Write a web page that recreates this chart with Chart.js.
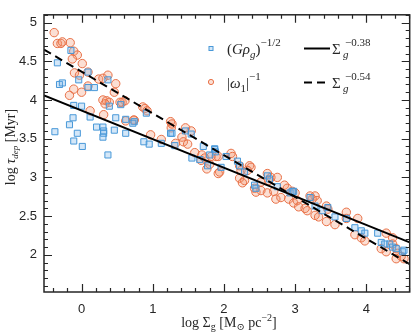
<!DOCTYPE html>
<html>
<head>
<meta charset="utf-8">
<script src="https://cdn.jsdelivr.net/npm/chart.js@4/dist/chart.umd.min.js"></script>
<style>
  html, body { margin: 0; padding: 0; background: #fff; }
  #wrap { width: 415px; height: 332px; }
</style>
</head>
<body>
<div id="wrap"><canvas id="chart" width="415" height="332"></canvas></div>
<script>
/* ─── data ──────────────────────────────────────────────────── */
const X_TICKS = [0, 1, 2, 3, 4];
const Y_TICKS = [2, 2.5, 3, 3.5, 4, 4.5, 5];

// |omega_1|^-1  (orange circles)
const omegaX = [-0.385, -0.34, -0.29, -0.27, -0.16, -0.11, -0.06, -0.13, 0.01, -0.10, -0.03, 0.09, 0.24, 0.30, 0.37,
  0.48, -0.11, -0.17, 0.00, 0.09, 0.30, 0.35, 0.39, 0.33, 0.46, 0.57, 0.12, 0.31, 0.62, 0.74, 1.25, 1.26, 1.32, 1.12,
  0.97, 0.73, 0.86, 0.89, 0.92, 0.61, 0.54, 1.27, 1.46, 1.54, 1.41, 1.43, 1.49, 1.59, 1.68, 1.69, 1.73, 1.76,
  1.80, 1.82, 1.89, 1.92, 2.10, 2.12, 1.94, 1.92, 2.22, 2.24, 2.36, 2.38, 2.33, 2.22, 2.29, 2.26, 2.61, 2.66, 2.75,
  2.63, 2.52, 2.43, 2.45, 2.52, 2.61, 2.70, 2.73, 2.80, 2.91, 2.98, 2.85, 2.89, 2.96, 3.00, 3.03, 3.05, 3.14, 3.17,
  3.21, 3.28, 3.24, 3.31, 3.28, 3.33, 3.44, 3.46, 3.44, 3.56, 3.72, 3.72, 3.88, 3.84, 3.93, 3.98, 4.28, 4.37, 4.21,
  4.28, 4.42, 4.44, 4.49, 4.42, 4.53, 4.37];
const omegaY = [4.87, 4.73, 4.73, 4.75, 4.74, 4.63, 4.58, 4.53, 4.47, 4.35, 4.32, 4.36, 4.27, 4.28, 4.32,
  4.21, 4.14, 4.06, 4.10, 4.18, 4.00, 3.99, 3.97, 3.95, 4.10, 3.97, 3.86, 3.81, 3.73, 3.74, 3.72, 3.64, 3.44, 3.49,
  3.55, 3.74, 3.91, 3.89, 3.86, 3.99, 3.97, 3.69, 3.64, 3.60, 3.52, 3.46, 3.43, 3.32, 3.22, 3.29, 3.25, 3.11,
  3.17, 3.27, 3.27, 3.27, 3.31, 3.27, 3.07, 3.05, 3.15, 3.09, 3.15, 3.13, 3.09, 2.99, 2.96, 2.93, 3.05, 3.00, 3.00,
  2.96, 2.94, 2.86, 2.81, 2.83, 2.80, 2.82, 2.72, 2.74, 2.72, 2.67, 2.90, 2.86, 2.82, 2.80, 2.70, 2.62, 2.60, 2.57,
  2.76, 2.76, 2.72, 2.70, 2.51, 2.49, 2.63, 2.59, 2.43, 2.39, 2.55, 2.47, 2.47, 2.26, 2.22, 2.18, 2.28, 2.22, 2.08,
  2.04, 2.08, 2.02, 1.98, 1.95, 1.95, 2.14];

// (G rho_g)^-1/2  (blue squares)
const rhoX = [-0.15, -0.34, -0.31, -0.27, 0.09, -0.04, 0.09, 0.18, 0.37, 0.00, -0.11, -0.375, -0.12, -0.17, -0.06,
  -0.11, 0.01, 0.12, 0.21, 0.30, 0.31, 0.31, 0.30, 0.37, 0.46, 0.48, 0.39, 0.55, 0.62, 0.62, 0.74, 1.25, 1.31, 1.12,
  0.875, 0.95, 0.91, 0.72, 1.27, 1.46, 1.54, 1.71, 1.80, 1.87, 1.55, 1.66, 1.77, 1.87, 1.88, 2.03, 2.19, 2.22, 1.96,
  2.29, 2.61, 2.64, 2.43, 2.45, 2.75, 2.93, 2.98, 2.96, 3.21, 3.28, 3.38, 3.46, 3.56, 3.72, 3.84, 3.93, 3.98, 4.16,
  4.21, 4.26, 4.33, 4.37, 4.42, 4.51, 4.53];
const rhoY = [4.64, 4.48, 4.20, 4.22, 4.36, 4.26, 4.16, 4.16, 4.26, 3.92, 3.93, 3.59, 3.77, 3.68, 3.57,
  3.47, 3.40, 3.78, 3.65, 3.65, 3.60, 3.57, 3.52, 3.29, 3.61, 3.77, 3.92, 3.94, 3.57, 3.75, 3.72, 3.57, 3.41, 3.44,
  3.46, 3.43, 3.83, 3.70, 3.57, 3.60, 3.56, 3.40, 3.29, 3.36, 3.25, 3.23, 3.15, 3.37, 3.33, 3.27, 3.21, 3.15, 3.13,
  3.07, 3.02, 2.98, 2.90, 2.86, 2.88, 2.80, 2.82, 2.82, 2.74, 2.63, 2.57, 2.61, 2.49, 2.47, 2.35, 2.31, 2.28, 2.28,
  2.16, 2.14, 2.14, 2.10, 2.08, 2.04, 2.06];

// fit lines, end points at the plot edges
const fitX      = [-0.528, 4.61];
const fitSolidY = [4.06, 2.16];   // Sigma_g^-0.38
const fitDashY  = [4.65, 1.88];   // Sigma_g^-0.54

const X_MIN = -0.528, X_MAX = 4.61, Y_MIN = 1.52, Y_MAX = 5.10;

const ORANGE      = 'rgb(232,112,70)';
const ORANGE_FILL = 'rgba(240,140,100,0.28)';
const BLUE        = 'rgb(72,152,216)';
const BLUE_FILL   = 'rgba(120,180,232,0.32)';
const INK         = '#262626';

const SERIF = '"Liberation Serif", "DejaVu Serif", serif';
const SANS  = '"Liberation Sans", Arial, sans-serif';

const pts = (xs, ys) => xs.map((x, i) => ({ x, y: ys[i] }));

/* ─── helpers for rich (sub/superscript) text ──────────────── */
// parts: [text, font, dy]
function drawRich(ctx, x, y, parts, align) {
  let total = 0;
  parts.forEach(p => { ctx.font = p[1]; total += ctx.measureText(p[0]).width; });
  let cx = align === 'center' ? x - total / 2 : x;
  ctx.textAlign = 'left';
  ctx.textBaseline = 'alphabetic';
  parts.forEach(p => {
    ctx.font = p[1];
    ctx.fillText(p[0], cx, y + (p[2] || 0));
    cx += ctx.measureText(p[0]).width;
  });
}

/* ─── plugin: inward ticks, frame, labels, legend ──────────── */
const decor = {
  id: 'decor',
  afterDraw(chart) {
    const { ctx, chartArea: a, scales: { x, y } } = chart;
    ctx.save();
    ctx.strokeStyle = INK;
    ctx.fillStyle = INK;

    // ticks, pointing inward on all four sides
    ctx.lineWidth = 1.2;
    ctx.beginPath();
    for (let i = -4; i <= 46; i += 2) {
      const v = i / 10;
      if (v < X_MIN || v > X_MAX) continue;
      const px = Math.round(x.getPixelForValue(v)) + 0.5;
      const len = (i % 10 === 0) ? 8 : 4;
      ctx.moveTo(px, a.bottom); ctx.lineTo(px, a.bottom - len);
      ctx.moveTo(px, a.top);    ctx.lineTo(px, a.top + len);
    }
    for (let i = 16; i <= 51; i++) {
      const v = i / 10;
      if (v < Y_MIN || v > Y_MAX) continue;
      const py = Math.round(y.getPixelForValue(v)) + 0.5;
      const len = (i % 5 === 0) ? 8 : 4;
      ctx.moveTo(a.left, py);  ctx.lineTo(a.left + len, py);
      ctx.moveTo(a.right, py); ctx.lineTo(a.right - len, py);
    }
    ctx.stroke();

    // frame
    ctx.lineWidth = 1.5;
    ctx.strokeRect(a.left, a.top, a.right - a.left, a.bottom - a.top);

    // axis titles
    const r14 = `14px ${SERIF}`, i14 = `italic 14px ${SERIF}`, i9 = `italic 9px ${SERIF}`, r10 = `10px ${SERIF}`;
    drawRich(ctx, 229, 327, [
      ['log \u03A3', r14, 0], ['g', r10, 3], [' [M', r14, 0], ['\u2299', r10, 3],
      [' pc', r14, 0], ['\u22122', r10, -6], [']', r14, 0],
    ], 'center');

    ctx.save();
    ctx.translate(15, 147);
    ctx.rotate(-Math.PI / 2);
    drawRich(ctx, 0, 0, [
      ['log ', r14, 0], ['\u03C4', i14, 0], ['dep', i9, 3], [' [Myr]', r14, 0],
    ], 'center');
    ctx.restore();

    // legend
    const i15 = `italic 15px ${SERIF}`, r15 = `15px ${SERIF}`, r11 = `11px ${SERIF}`, i11 = `italic 11px ${SERIF}`;
    ctx.lineWidth = 1;
    ctx.fillStyle = BLUE_FILL; ctx.strokeStyle = BLUE;
    ctx.fillRect(209, 46.5, 4, 4); ctx.strokeRect(209, 46.5, 4, 4);
    ctx.beginPath(); ctx.arc(211, 82, 2.6, 0, Math.PI * 2);
    ctx.fillStyle = ORANGE_FILL; ctx.strokeStyle = ORANGE; ctx.fill(); ctx.stroke();

    ctx.fillStyle = INK;
    drawRich(ctx, 227, 54, [
      ['(', r15, 0], ['G\u03C1', i15, 0], ['g', i11, 4], [')', r15, 0], ['\u22121/2', r11, -8],
    ]);
    drawRich(ctx, 227, 88, [
      ['|', r15, 0], ['\u03C9', i15, 0], ['1', r11, 4], ['|', r15, 0], ['\u22121', r11, -8],
    ]);

    ctx.strokeStyle = '#000';
    ctx.lineWidth = 2;
    ctx.beginPath(); ctx.moveTo(304, 48.5); ctx.lineTo(330, 48.5); ctx.stroke();
    ctx.setLineDash([8, 5]);
    ctx.beginPath(); ctx.moveTo(304, 82.5); ctx.lineTo(330, 82.5); ctx.stroke();
    ctx.setLineDash([]);

    drawRich(ctx, 332, 54, [['\u03A3', r15, 0]]);
    drawRich(ctx, 343, 58, [['g', i11, 0]]);
    drawRich(ctx, 345, 46, [['\u22120.38', r11, 0]]);
    drawRich(ctx, 332, 88, [['\u03A3', r15, 0]]);
    drawRich(ctx, 343, 92, [['g', i11, 0]]);
    drawRich(ctx, 345, 80, [['\u22120.54', r11, 0]]);

    ctx.restore();
  },
};

new Chart(document.getElementById('chart').getContext('2d'), {
  type: 'scatter',
  data: {
    datasets: [
      {
        label: 'fit -0.38',
        data: pts(fitX, fitSolidY),
        showLine: true,
        borderColor: '#000',
        borderWidth: 2,
        pointRadius: 0,
      },
      {
        label: 'fit -0.54',
        data: pts(fitX, fitDashY),
        showLine: true,
        borderColor: '#000',
        borderWidth: 2,
        borderDash: [8, 5],
        pointRadius: 0,
      },
      {
        label: '(G rho_g)^-1/2',
        data: pts(rhoX, rhoY),
        pointStyle: 'rect',
        pointRadius: 4.3,
        borderWidth: 1,
        borderColor: BLUE,
        backgroundColor: BLUE_FILL,
      },
      {
        label: '|omega_1|^-1',
        data: pts(omegaX, omegaY),
        pointStyle: 'circle',
        pointRadius: 4.2,
        borderWidth: 1,
        borderColor: ORANGE,
        backgroundColor: ORANGE_FILL,
      },
    ],
  },
  options: {
    responsive: false,
    devicePixelRatio: 1,
    animation: false,
    layout: { padding: { top: 2, right: 1, left: 0, bottom: 0 } },
    plugins: { legend: { display: false }, tooltip: { enabled: false } },
    scales: {
      x: {
        type: 'linear',
        min: X_MIN, max: X_MAX,
        afterBuildTicks: s => { s.ticks = X_TICKS.map(v => ({ value: v })); },
        afterFit: s => { s.height = 40; },
        grid: { display: false, drawTicks: false },
        border: { display: false },
        ticks: { color: INK, padding: 10, font: { family: SANS, size: 13 }, callback: v => String(v) },
      },
      y: {
        type: 'linear',
        min: Y_MIN, max: Y_MAX,
        afterBuildTicks: s => { s.ticks = Y_TICKS.map(v => ({ value: v })); },
        afterFit: s => { s.width = 44; },
        grid: { display: false, drawTicks: false },
        border: { display: false },
        ticks: { color: INK, padding: 7, font: { family: SANS, size: 13 }, callback: v => String(v) },
      },
    },
  },
  plugins: [decor],
});
</script>
</body>
</html>
